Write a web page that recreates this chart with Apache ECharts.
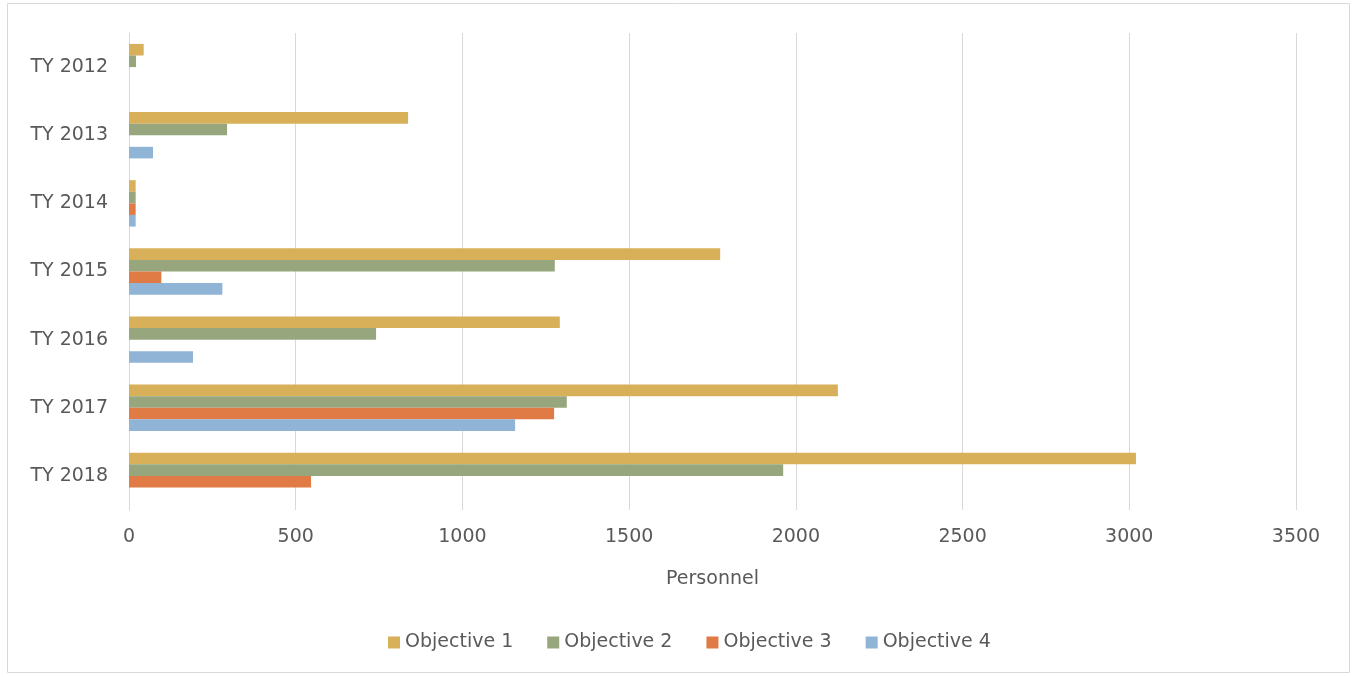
<!DOCTYPE html>
<html><head><meta charset="utf-8">
<script src="https://cdn.jsdelivr.net/npm/echarts@6/dist/echarts.min.js"></script>
<style>html,body{margin:0;padding:0;background:#fff}#c{width:1353px;height:677px}</style>
</head><body><div id="c"></div>
<script>
const categories = ['TY 2012','TY 2013','TY 2014','TY 2015','TY 2016','TY 2017','TY 2018'];
const objective1 = [44, 837, 20, 1773, 1292, 2126, 3020];
const objective2 = [21, 294, 20, 1277, 741, 1313, 1962];
const objective3 = [0, 0, 20, 97, 0, 1275, 546];
const objective4 = [0, 72, 20, 280, 192, 1158, 0];
const seriesNames = ['Objective 1','Objective 2','Objective 3','Objective 4'];
const colors = ['#D9B05A','#98A67E','#E07B45','#8FB4D6'];
const font = '"DejaVu Sans", sans-serif';
const chart = echarts.init(document.getElementById('c'), null, {renderer:'canvas'});
const data = [objective1, objective2, objective3, objective4];
chart.setOption({
  animation:false,
  graphic:[{type:'rect', shape:{x:7.5,y:3.5,width:1342,height:669}, style:{fill:'none', stroke:'#d9d9d9', lineWidth:1}, silent:true}],
  grid:{left:129, right:57, top:33, bottom:167, containLabel:false},
  legend:{
    bottom:20, left:383, itemWidth:12, itemHeight:12, itemGap:34, icon:'rect',
    textStyle:{color:'#595959', fontSize:19, fontFamily:font},
    data:seriesNames
  },
  xAxis:{
    type:'value', min:0, max:3500, interval:500,
    name:'Personnel', nameLocation:'middle', nameGap:60,
    nameTextStyle:{color:'#595959', fontSize:19, fontFamily:font},
    axisLabel:{color:'#595959', fontSize:19, fontFamily:font, margin:18, formatter:v=>String(v)},
    axisLine:{show:false}, axisTick:{show:false},
    splitLine:{lineStyle:{color:'#d9d9d9', width:1}}
  },
  yAxis:{
    type:'category', data:categories, inverse:true,
    axisLabel:{color:'#595959', fontSize:19, fontFamily:font, margin:21},
    axisLine:{lineStyle:{color:'#d9d9d9'}}, axisTick:{show:false}
  },
  series: seriesNames.map((n,i)=>({
    name:n, type:'bar', data:data[i], barGap:'0%', barCategoryGap:'32%',
    itemStyle:{color:colors[i]}
  }))
});
</script></body></html>
